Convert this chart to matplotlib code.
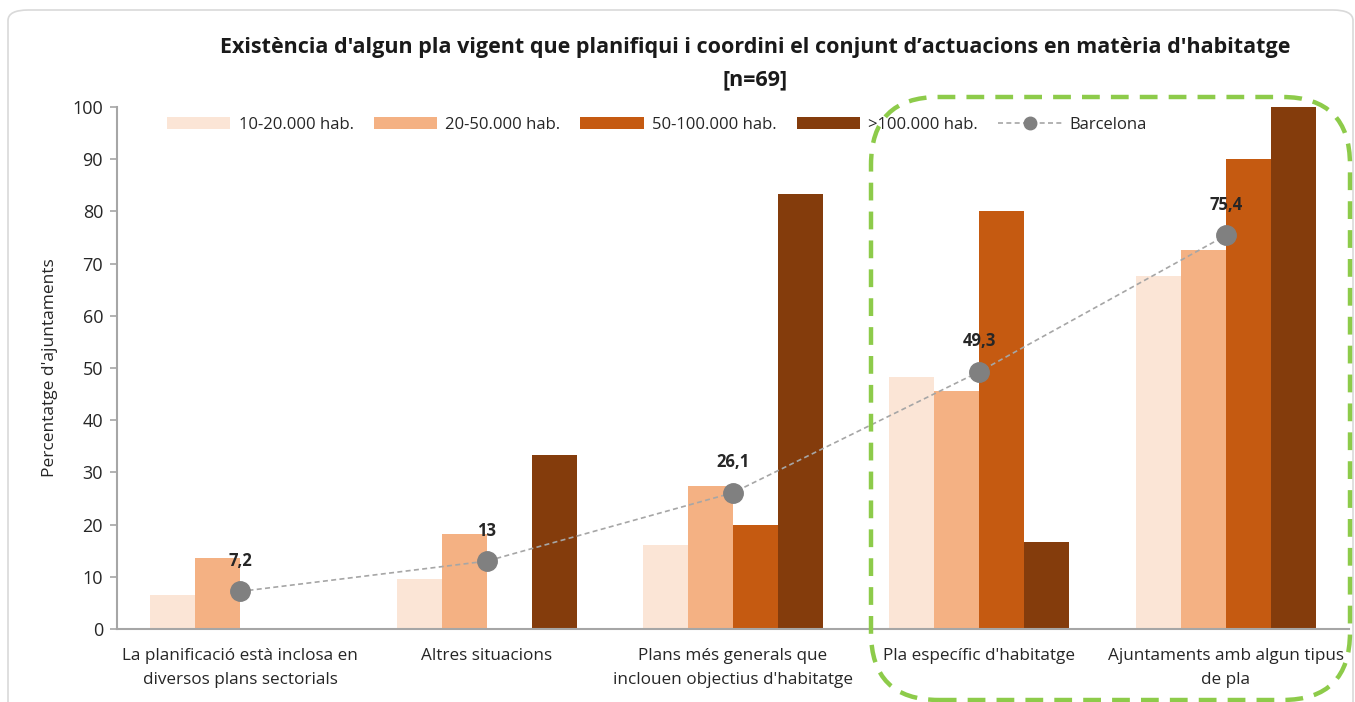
import matplotlib
matplotlib.use("Agg")
import matplotlib.pyplot as plt
import numpy as np
from matplotlib.patches import FancyBboxPatch, Patch
from matplotlib.lines import Line2D

categories = [
    "La planificació està inclosa en\ndiversos plans sectorials",
    "Altres situacions",
    "Plans més generals que\ninclouen objectius d'habitatge",
    "Pla específic d'habitatge",
    "Ajuntaments amb algun tipus\nde pla",
]
series_names = ["10-20.000 hab.", "20-50.000 hab.", "50-100.000 hab.", ">100.000 hab."]
s1 = [6.5, 9.6, 16.1, 48.3, 67.6]
s2 = [13.6, 18.2, 27.3, 45.5, 72.7]
s3 = [0, 0, 20.0, 80.0, 90.0]
s4 = [0, 33.3, 83.3, 16.7, 100.0]
barcelona = [7.2, 13, 26.1, 49.3, 75.4]
barcelona_labels = ["7,2", "13", "26,1", "49,3", "75,4"]
yticks = [0, 10, 20, 30, 40, 50, 60, 70, 80, 90, 100]

colors = ["#FBE5D6", "#F4B183", "#C55A11", "#843C0C"]
FONT = "Open Sans"
plt.rcParams["font.family"] = [FONT, "DejaVu Sans"]

W, H = 1355, 702
fig = plt.figure(figsize=(W / 100, H / 100), dpi=100)

# outer faint border
fig.patches.append(FancyBboxPatch((8 / W, -0.05), (1345 / W), 1.05 - 10 / H,
                                  boxstyle="round,pad=0,rounding_size=0.015",
                                  transform=fig.transFigure, fill=False,
                                  edgecolor="#D9D9D9", linewidth=1.2, zorder=0))

ax = fig.add_axes([117 / W, 1 - 629 / H, (1349 - 117) / W, (629 - 107) / H])
x = np.arange(len(categories))
bw = 45 / 246.5
all_series = [s1, s2, s3, s4]
for i, (vals, c, name) in enumerate(zip(all_series, colors, series_names)):
    ax.bar(x + (i - 1.5) * bw, vals, width=bw, color=c, label=name, zorder=2)

line_style = (0, (3, 2))
ax.plot(x, barcelona, linestyle=line_style, color="#A6A6A6", linewidth=1.2,
        marker="o", markersize=14, markerfacecolor="#808080",
        markeredgecolor="#808080", zorder=3)
for xi, v, lab in zip(x, barcelona, barcelona_labels):
    ax.annotate(lab, (xi, v), xytext=(0, 22), textcoords="offset points",
                ha="center", va="center", fontsize=12, fontweight="bold",
                color="#262626")

ax.set_xlim(-0.5, len(categories) - 0.5)
ax.set_ylim(0, 100)
ax.set_yticks(yticks)
ax.set_yticklabels([str(t) for t in yticks], fontsize=13, color="#262626")
ax.set_xticks(x)
ax.set_xticklabels(categories, fontsize=12.3, color="#262626", linespacing=1.6)
ax.tick_params(axis="x", length=0, pad=14)
ax.tick_params(axis="y", length=5, color="#A6A6A6", width=1.2, pad=5)
for s in ["top", "right"]:
    ax.spines[s].set_visible(False)
for s in ["left", "bottom"]:
    ax.spines[s].set_color("#A6A6A6")
    ax.spines[s].set_linewidth(1.5)
ax.set_ylabel("Percentatge d'ajuntaments", fontsize=12.5, color="#262626", labelpad=10)

fig.text(755 / W, 1 - 47 / H,
         "Existència d'algun pla vigent que planifiqui i coordini el conjunt d\u2019actuacions en matèria d'habitatge",
         ha="center", va="center", fontsize=15.5, fontweight="bold", color="#1a1a1a")
fig.text(755 / W, 1 - 80 / H, "[n=69]", ha="center", va="center",
         fontsize=15.5, fontweight="bold", color="#1a1a1a")

handles = [Patch(facecolor=c, edgecolor="none") for c in colors]
handles.append(Line2D([], [], linestyle=line_style, color="#A6A6A6", linewidth=1.2,
                      marker="o", markersize=9, markerfacecolor="#808080",
                      markeredgecolor="#808080"))
labels = series_names + ["Barcelona"]
leg = fig.legend(handles, labels, loc="center left",
                 bbox_to_anchor=(167 / W, 1 - 125 / H), ncol=5, frameon=False,
                 fontsize=12, handlelength=3.8, handleheight=0.72,
                 handletextpad=0.5, columnspacing=1.2,
                 borderaxespad=0, borderpad=0)
for t in leg.get_texts():
    t.set_color("#262626")

# green dashed highlight
fig.patches.append(FancyBboxPatch((871 / W, 1 - 700 / H), (1350 - 871) / W, (700 - 97) / H,
                                  boxstyle="round,pad=0,rounding_size=0.05",
                                  transform=fig.transFigure, fill=False,
                                  edgecolor="#8DCB4A", linewidth=3.2,
                                  linestyle=(0, (4, 2.5)), zorder=10,
                                  mutation_aspect=W / H))

fig.savefig("out.png", dpi=100)
